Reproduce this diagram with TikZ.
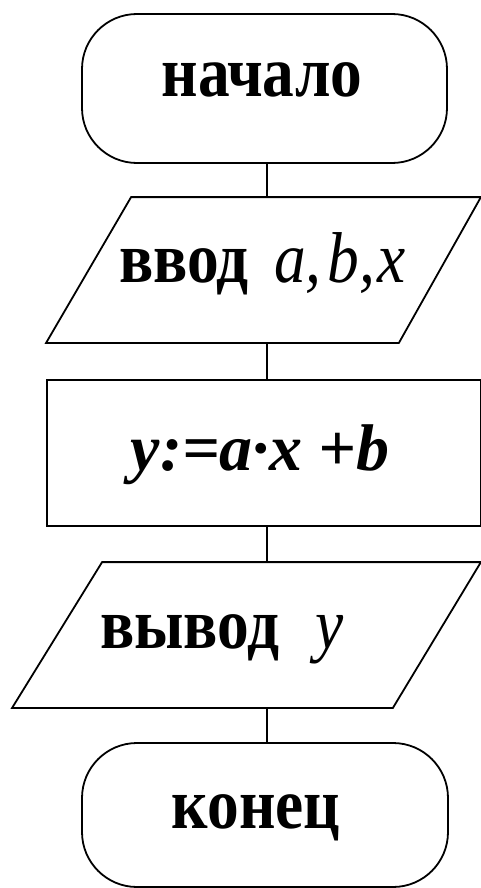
\documentclass[tikz,border=0pt]{standalone}
\usepackage{fontspec}
\setmainfont{Liberation Serif}
\newfontfamily\fc[FakeStretch=0.88]{Liberation Serif}
\usetikzlibrary{calc}
\begin{document}
\begin{tikzpicture}[x=1pt,y=-1pt, line width=1.8pt,
  term/.style={draw, rectangle, rounded corners=55pt, minimum width=365pt, minimum height=149pt, inner sep=0pt},
  iobox/.style={rectangle, inner sep=0pt, minimum height=144pt},
  proc/.style={draw, rectangle, inner sep=0pt, minimum width=434pt, minimum height=146pt},
  txt/.style={anchor=base, inner sep=0pt, font=\fc\fontsize{72}{80}\selectfont\bfseries},
  link/.style={draw}]
\useasboundingbox (0,0) rectangle (481,888);
\fill[white] (0,0) rectangle (481,888);
\coordinate (cx) at (267,0);
\node[term] (start) at (264.5,88.5) {};
\node[iobox, minimum width=433pt] (inp) at (263.5,270) {};
\draw ($(inp.north west)+(85,0)$) -- (inp.north east) -- ($(inp.south east)-(82,0)$) -- (inp.south west) -- cycle;
\node[proc] (calc) at (264,453) {};
\node[iobox, minimum width=467pt] (out) at (246.5,635) {};
\draw ($(out.north west)+(90,0)$) -- (out.north east) -- ($(out.south east)-(88,0)$) -- (out.south west) -- cycle;
\node[term, minimum width=366pt, minimum height=144pt] (stop) at (265,815) {};
\node[txt] (t1) at (262,97) {начало};
\node[txt] (t2) at (262.5,282) {ввод\hspace{0.35em}{\mdseries\itshape a,\hspace{0.08em}b,\hspace{0.04em}x}};
\node[txt, font=\rmfamily\fontsize{66}{72}\selectfont\bfseries\itshape] (t3) at (260,470) {y:=a·x\hspace{0.25em}+b};
\node[txt] (t4) at (222,648) {вывод\hspace{0.5em}{\mdseries\itshape y}};
\node[txt] (t5) at (256,828) {конец};
\draw[link] (start.south -| cx) -- (inp.north -| cx);
\draw[link] (inp.south -| cx) -- (calc.north -| cx);
\draw[link] (calc.south -| cx) -- (out.north -| cx);
\draw[link] (out.south -| cx) -- (stop.north -| cx);
\end{tikzpicture}
\end{document}
